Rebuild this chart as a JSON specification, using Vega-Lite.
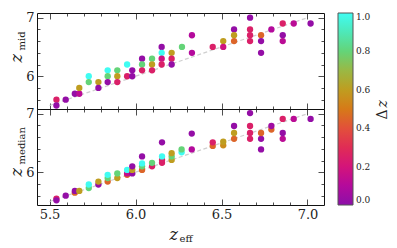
{
  "$schema": "https://vega.github.io/schema/vega-lite/v6.json",
  "padding": {"left": 7, "top": 11, "right": 0, "bottom": 0},
  "background": "white",
  "config": {
    "font": "DejaVu Serif",
    "view": {"stroke": "#111111", "strokeWidth": 1},
    "axis": {
      "domain": false, "grid": false, "labelFont": "DejaVu Serif", "labelFontSize": 13,
      "labelColor": "#222222", "tickColor": "#222222", "tickWidth": 0.8, "labelOverlap": false,
      "labelFlush": false, "titleColor": "#222222", "titleFont": "DejaVu Serif", "titleFontWeight": "normal"
    },
    "legend": {"labelFont": "DejaVu Serif", "titleFont": "DejaVu Serif"}
  },
  "datasets": {
    "line": [{"x": 5.5, "y": 5.5}, {"x": 7.0, "y": 7.0}],
    "mid": [
      {"x":5.54,"y":5.6,"dz":0.25},{"x":5.54,"y":5.5,"dz":0.02},
      {"x":5.594,"y":5.6,"dz":0.02},
      {"x":5.647,"y":5.7,"dz":0.02},
      {"x":5.673,"y":5.7,"dz":0.12},{"x":5.673,"y":5.8,"dz":0.6},
      {"x":5.728,"y":6.0,"dz":1.0},{"x":5.728,"y":5.9,"dz":0.8},
      {"x":5.784,"y":5.9,"dz":0.6},{"x":5.784,"y":5.8,"dz":0.02},
      {"x":5.838,"y":6.1,"dz":1.0},{"x":5.838,"y":6.0,"dz":0.8},{"x":5.838,"y":5.9,"dz":0.02},
      {"x":5.894,"y":6.1,"dz":0.8},{"x":5.894,"y":6.0,"dz":0.6},{"x":5.894,"y":5.9,"dz":0.25},
      {"x":5.951,"y":6.2,"dz":1.0},{"x":5.951,"y":6.0,"dz":0.25},
      {"x":5.981,"y":6.1,"dz":0.02},{"x":5.981,"y":6.0,"dz":0.02},
      {"x":6.038,"y":6.3,"dz":0.02},{"x":6.038,"y":6.2,"dz":0.8},{"x":6.038,"y":6.1,"dz":0.25},
      {"x":6.096,"y":6.3,"dz":0.8},{"x":6.096,"y":6.2,"dz":0.6},{"x":6.096,"y":6.1,"dz":0.25},
      {"x":6.152,"y":6.5,"dz":0.02},{"x":6.152,"y":6.4,"dz":1.0},{"x":6.152,"y":6.3,"dz":0.18},{"x":6.152,"y":6.2,"dz":0.25},
      {"x":6.21,"y":6.4,"dz":0.6},{"x":6.21,"y":6.3,"dz":0.25},{"x":6.21,"y":6.2,"dz":0.02},
      {"x":6.27,"y":6.5,"dz":0.8},
      {"x":6.328,"y":6.7,"dz":0.1},{"x":6.328,"y":6.4,"dz":0.1},
      {"x":6.449,"y":6.5,"dz":0.25},
      {"x":6.51,"y":6.6,"dz":0.6},{"x":6.51,"y":6.5,"dz":0.18},
      {"x":6.573,"y":6.8,"dz":0.02},{"x":6.573,"y":6.7,"dz":0.6},{"x":6.573,"y":6.6,"dz":0.45},
      {"x":6.666,"y":7.0,"dz":0.02},{"x":6.666,"y":6.8,"dz":0.25},{"x":6.666,"y":6.7,"dz":0.25},{"x":6.666,"y":6.6,"dz":0.25},
      {"x":6.73,"y":6.7,"dz":0.45},{"x":6.73,"y":6.6,"dz":0.02},{"x":6.73,"y":6.4,"dz":0.02},
      {"x":6.79,"y":6.8,"dz":0.1},
      {"x":6.856,"y":6.9,"dz":0.25},{"x":6.856,"y":6.7,"dz":0.02},{"x":6.856,"y":6.6,"dz":0.12},
      {"x":6.92,"y":6.9,"dz":0.12},
      {"x":7.018,"y":6.9,"dz":0.02}
    ],
    "med": [
      {"x":5.54,"y":5.55,"dz":0.25},{"x":5.54,"y":5.52,"dz":0.02},
      {"x":5.594,"y":5.6,"dz":0.02},
      {"x":5.647,"y":5.65,"dz":0.45},{"x":5.647,"y":5.68,"dz":0.02},
      {"x":5.673,"y":5.68,"dz":0.6},
      {"x":5.728,"y":5.73,"dz":0.8},{"x":5.728,"y":5.79,"dz":1.0},
      {"x":5.784,"y":5.79,"dz":0.02},{"x":5.784,"y":5.84,"dz":0.6},
      {"x":5.838,"y":5.84,"dz":0.45},{"x":5.838,"y":5.9,"dz":0.8},{"x":5.838,"y":5.955,"dz":1.0},
      {"x":5.894,"y":5.9,"dz":0.6},{"x":5.894,"y":5.98,"dz":0.8},
      {"x":5.951,"y":5.955,"dz":0.45},{"x":5.951,"y":5.98,"dz":0.15},{"x":5.951,"y":6.04,"dz":1.0},
      {"x":5.981,"y":5.98,"dz":0.02},{"x":5.981,"y":6.04,"dz":0.6},{"x":5.981,"y":6.1,"dz":0.02},
      {"x":6.038,"y":6.04,"dz":0.45},{"x":6.038,"y":6.1,"dz":0.8},{"x":6.038,"y":6.15,"dz":1.0},{"x":6.038,"y":6.27,"dz":0.02},
      {"x":6.096,"y":6.1,"dz":0.25},{"x":6.096,"y":6.16,"dz":0.8},
      {"x":6.154,"y":6.16,"dz":0.25},{"x":6.154,"y":6.21,"dz":0.25},{"x":6.154,"y":6.27,"dz":1.0},{"x":6.154,"y":6.51,"dz":0.02},
      {"x":6.21,"y":6.21,"dz":0.6},{"x":6.21,"y":6.27,"dz":0.8},{"x":6.21,"y":6.325,"dz":0.6},
      {"x":6.268,"y":6.34,"dz":1.0},{"x":6.268,"y":6.39,"dz":0.8},
      {"x":6.327,"y":6.39,"dz":0.1},{"x":6.327,"y":6.66,"dz":0.02},
      {"x":6.449,"y":6.45,"dz":0.45},{"x":6.449,"y":6.51,"dz":0.25},
      {"x":6.51,"y":6.46,"dz":0.55},{"x":6.51,"y":6.52,"dz":0.6},
      {"x":6.573,"y":6.57,"dz":0.45},{"x":6.573,"y":6.67,"dz":0.6},{"x":6.573,"y":6.79,"dz":0.02},
      {"x":6.666,"y":6.57,"dz":0.25},{"x":6.666,"y":6.67,"dz":0.25},{"x":6.666,"y":6.79,"dz":0.25},{"x":6.666,"y":7.01,"dz":0.02},
      {"x":6.73,"y":6.39,"dz":0.02},{"x":6.73,"y":6.57,"dz":0.02},{"x":6.73,"y":6.67,"dz":0.45},
      {"x":6.79,"y":6.73,"dz":0.45},{"x":6.79,"y":6.79,"dz":0.05},
      {"x":6.856,"y":6.57,"dz":0.12},{"x":6.856,"y":6.67,"dz":0.02},{"x":6.856,"y":6.91,"dz":0.25},
      {"x":6.92,"y":6.91,"dz":0.12},
      {"x":7.018,"y":6.91,"dz":0.02}
    ]
  },
  "spacing": 0,
  "bounds": "flush",
  "vconcat": [
    {
      "width": 287, "height": 96,
      "resolve": {"axis": {"x": "independent", "y": "independent"}},
      "layer": [
        {
          "data": {"name": "line"},
          "mark": {"type": "line", "color": "#cfcfcf", "strokeWidth": 1.2, "strokeDash": [4, 2.5]},
          "encoding": {
            "x": {"field": "x", "type": "quantitative", "scale": {"domain": [5.427, 7.096], "nice": false, "zero": false},
              "axis": {"orient": "bottom", "values": [5.5,5.6,5.7,5.8,5.9,6.0,6.1,6.2,6.3,6.4,6.5,6.6,6.7,6.8,6.9,7.0], "labels": false,
                "tickSize": {"condition": {"test": "abs(datum.value*2 - round(datum.value*2)) < 0.001", "value": -6}, "value": -3},
                "title": "z", "titleFontSize": 14, "titleFontStyle": "italic", "titleAngle": 270, "titleAlign": "left", "titleBaseline": "alphabetic", "titleX": 349, "titleY": -2}},
            "y": {"field": "y", "type": "quantitative", "scale": {"domain": [5.44, 7.08], "nice": false, "zero": false},
              "axis": {"orient": "left", "values": [5.6,5.8,6.0,6.2,6.4,6.6,6.8,7.0],
                "labelExpr": "abs(datum.value - round(datum.value)) < 0.001 ? format(datum.value, '.0f') : ''",
                "tickSize": {"condition": {"test": "abs(datum.value - round(datum.value)) < 0.001", "value": -6}, "value": -3},
                "labelPadding": 9,
                "title": "z", "titleFontSize": 16, "titleFontStyle": "italic", "titleAngle": 270, "titleAlign": "left", "titleBaseline": "alphabetic", "titleX": -16, "titleY": 49}}
          }
        },
        {
          "data": {"name": "mid"},
          "mark": {"type": "circle", "size": 40, "opacity": 1},
          "encoding": {
            "x": {"field": "x", "type": "quantitative", "scale": {"domain": [5.427, 7.096], "nice": false, "zero": false},
              "axis": {"orient": "top", "values": [5.5,5.6,5.7,5.8,5.9,6.0,6.1,6.2,6.3,6.4,6.5,6.6,6.7,6.8,6.9,7.0], "labels": false,
                "tickSize": {"condition": {"test": "abs(datum.value*2 - round(datum.value*2)) < 0.001", "value": -6}, "value": -3},
                "title": "Δ", "titleFontSize": 14, "titleFontStyle": "normal", "titleAngle": 270, "titleAlign": "left", "titleBaseline": "alphabetic", "titleX": 349, "titleY": 106}},
            "y": {"field": "y", "type": "quantitative", "scale": {"domain": [5.44, 7.08], "nice": false, "zero": false},
              "axis": {"orient": "right", "values": [5.6,5.8,6.0,6.2,6.4,6.6,6.8,7.0], "labels": false,
                "tickSize": {"condition": {"test": "abs(datum.value - round(datum.value)) < 0.001", "value": -6}, "value": -3},
                "title": "mid", "titleFontSize": 10, "titleFontStyle": "normal", "titleAngle": 270, "titleAlign": "left", "titleBaseline": "alphabetic", "titleX": -300, "titleY": 37}},
            "color": {"field": "dz", "type": "quantitative",
              "scale": {"domain": [0,0.1,0.2,0.3,0.4,0.5,0.6,0.7,0.8,0.9,1.0],
                "range": ["#8c0fa8","#b40a9c","#d4147a","#e02c55","#e2503a","#d67a18","#bf9d20","#9ab844","#64d478","#4ee8b8","#40fcf2"], "interpolate": "rgb"},
              "legend": {"orient": "none", "legendX": 301, "legendY": 0, "padding": 0, "direction": "vertical", "gradientLength": 192, "gradientThickness": 15,
                "gradientStrokeColor": "#555555", "gradientStrokeWidth": 1, "values": [0,0.2,0.4,0.6,0.8,1.0], "format": ".1f",
                "labelFontSize": 9, "labelColor": "#222222", "labelOffset": 3, "labelOverlap": false, "title": null}}
          }
        }
      ]
    },
    {
      "width": 287, "height": 96,
      "resolve": {"axis": {"x": "independent", "y": "independent"}},
      "layer": [
        {
          "data": {"name": "line"},
          "mark": {"type": "line", "color": "#cfcfcf", "strokeWidth": 1.2, "strokeDash": [4, 2.5]},
          "encoding": {
            "x": {"field": "x", "type": "quantitative", "scale": {"domain": [5.427, 7.096], "nice": false, "zero": false},
              "axis": {"orient": "bottom", "values": [5.5,5.6,5.7,5.8,5.9,6.0,6.1,6.2,6.3,6.4,6.5,6.6,6.7,6.8,6.9,7.0],
                "labelExpr": "abs(datum.value*2 - round(datum.value*2)) < 0.001 ? format(datum.value, '.1f') : ''",
                "labelPadding": 9,
                "tickSize": {"condition": {"test": "abs(datum.value*2 - round(datum.value*2)) < 0.001", "value": -6}, "value": -3},
                "title": "z", "titleFontSize": 16, "titleFontStyle": "italic", "titleAngle": 0, "titleAlign": "left", "titleBaseline": "alphabetic", "titleX": 132, "titleY": 34}},
            "y": {"field": "y", "type": "quantitative", "scale": {"domain": [5.44, 7.08], "nice": false, "zero": false},
              "axis": {"orient": "left", "values": [5.6,5.8,6.0,6.2,6.4,6.6,6.8,7.0],
                "labelExpr": "abs(datum.value - round(datum.value)) < 0.001 ? format(datum.value, '.0f') : ''",
                "tickSize": {"condition": {"test": "abs(datum.value - round(datum.value)) < 0.001", "value": -6}, "value": -3},
                "labelPadding": 9,
                "title": "z", "titleFontSize": 16, "titleFontStyle": "italic", "titleAngle": 270, "titleAlign": "left", "titleBaseline": "alphabetic", "titleX": -16, "titleY": 67}}
          }
        },
        {
          "data": {"name": "med"},
          "mark": {"type": "circle", "size": 40, "opacity": 1},
          "encoding": {
            "x": {"field": "x", "type": "quantitative", "scale": {"domain": [5.427, 7.096], "nice": false, "zero": false},
              "axis": {"orient": "top", "values": [5.5,5.6,5.7,5.8,5.9,6.0,6.1,6.2,6.3,6.4,6.5,6.6,6.7,6.8,6.9,7.0], "labels": false,
                "tickSize": {"condition": {"test": "abs(datum.value*2 - round(datum.value*2)) < 0.001", "value": -6}, "value": -3},
                "title": "eff", "titleFontSize": 10, "titleFontStyle": "normal", "titleAngle": 0, "titleAlign": "left", "titleBaseline": "alphabetic", "titleX": 142, "titleY": 132}},
            "y": {"field": "y", "type": "quantitative", "scale": {"domain": [5.44, 7.08], "nice": false, "zero": false},
              "axis": {"orient": "right", "values": [5.6,5.8,6.0,6.2,6.4,6.6,6.8,7.0], "labels": false,
                "tickSize": {"condition": {"test": "abs(datum.value - round(datum.value)) < 0.001", "value": -6}, "value": -3},
                "title": "median", "titleFontSize": 10, "titleFontStyle": "normal", "titleAngle": 270, "titleAlign": "left", "titleBaseline": "alphabetic", "titleX": -300, "titleY": 55}},
            "color": {"field": "dz", "type": "quantitative",
              "scale": {"domain": [0,0.1,0.2,0.3,0.4,0.5,0.6,0.7,0.8,0.9,1.0],
                "range": ["#8c0fa8","#b40a9c","#d4147a","#e02c55","#e2503a","#d67a18","#bf9d20","#9ab844","#64d478","#4ee8b8","#40fcf2"], "interpolate": "rgb"}}
          }
        }
      ]
    }
  ]
}
